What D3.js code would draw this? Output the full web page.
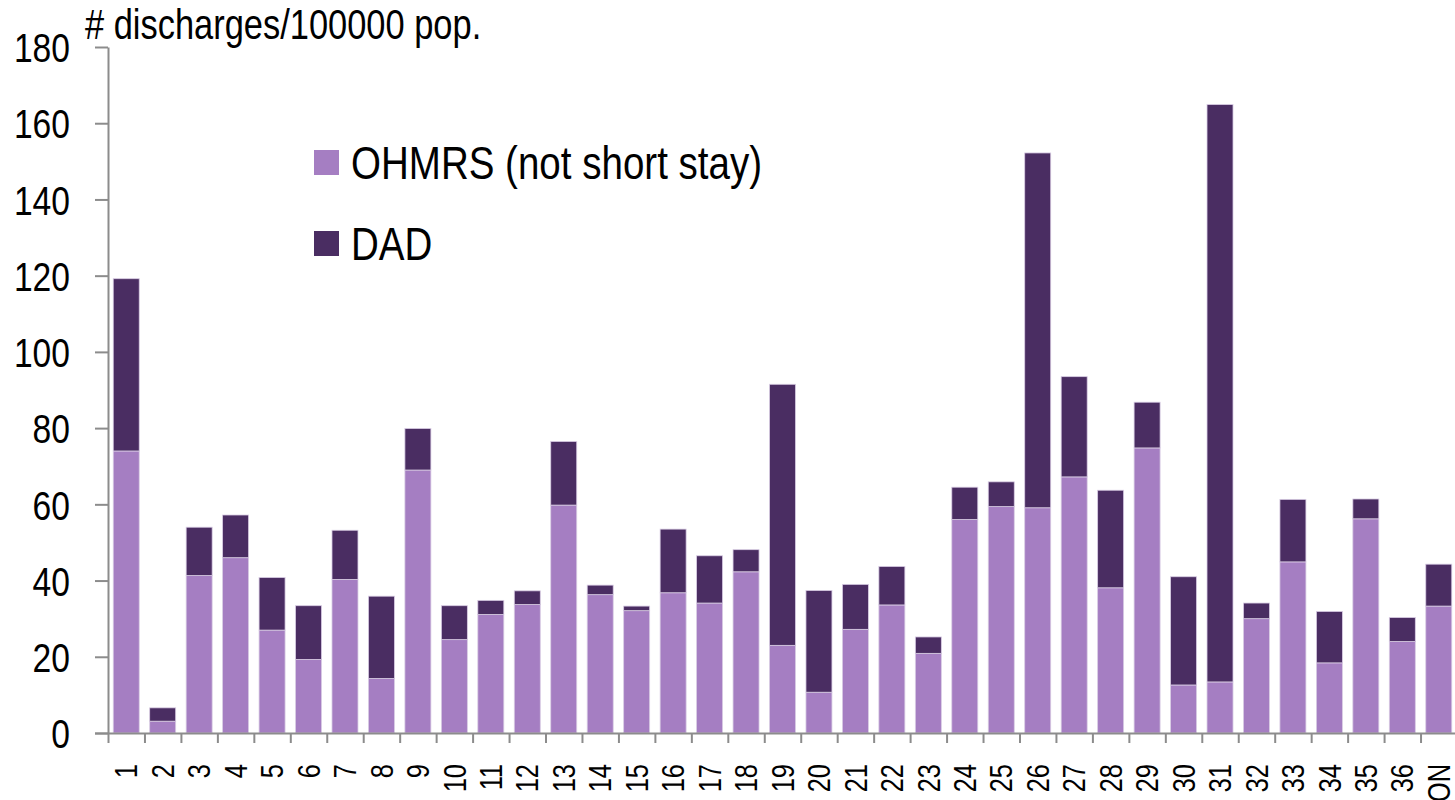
<!DOCTYPE html>
<html>
<head>
<meta charset="utf-8">
<script src="https://cdn.jsdelivr.net/npm/d3@7"></script>
<style>
    body { margin: 0; background: #fff; }
    svg text { font-family: "Liberation Sans", Arial, sans-serif; fill: #000; }
    .axis path, .axis line { stroke: #8c8c8c; stroke-width: 2; }
</style>
</head>
<body>
<script>
//Chart data
const categories = ['1','2','3','4','5','6','7','8','9','10','11','12','13','14','15','16','17','18','19','20',
    '21','22','23','24','25','26','27','28','29','30','31','32','33','34','35','36','ON'];
const ohmrs = [74.0, 3.1, 41.3, 46.0, 27.0, 19.3, 40.3, 14.3, 69.0, 24.5, 31.1, 33.7, 59.8, 36.3, 32.1, 36.8, 34.1, 42.3, 23.0, 10.7,
    27.2, 33.6, 20.9, 56.0, 59.4, 59.1, 67.2, 38.1, 74.8, 12.6, 13.4, 30.0, 44.9, 18.4, 56.2, 24.0, 33.3];
const dad = [45.2, 3.5, 12.7, 11.2, 13.8, 14.1, 12.9, 21.6, 10.9, 8.9, 3.7, 3.6, 16.7, 2.5, 1.2, 16.7, 12.4, 5.8, 68.5, 26.7,
    11.8, 10.1, 4.3, 8.5, 6.5, 93.1, 26.3, 25.6, 12.0, 28.4, 151.5, 4.1, 16.4, 13.5, 5.2, 6.3, 11.0];
const seriesNames = ['OHMRS (not short stay)', 'DAD'];
const seriesColours = ['#a57ec2', '#4a2d62'];
const yTicks = [0, 20, 40, 60, 80, 100, 120, 140, 160, 180];

//Setup chart
const width = 1455;
const height = 800;
const margin = {top: 47, right: -2, bottom: 67, left: 108};

//No narrow font installed, so squeeze the text sideways
const narrow = 0.82;

const svg = d3.select('body').append('svg')
    .attr('width', width)
    .attr('height', height);

//Build stacked data
let rows = categories.map((c, i) => ({name: c, ohmrs: ohmrs[i], dad: dad[i]}));
let stack = d3.stack().keys(['ohmrs', 'dad'])(rows);

//Scales
let x = d3.scaleBand()
    .domain(categories)
    .range([margin.left, width - margin.right])
    .paddingInner(0.287)
    .paddingOuter(0.1435);

let y = d3.scaleLinear()
    .domain([0, 180])
    .range([height - margin.bottom, margin.top]);

//Bars
svg.selectAll('g.series')
    .data(stack)
    .enter()
    .append('g')
    .attr('class', 'series')
    .style('fill', (d, i) => seriesColours[i])
    .selectAll('rect')
    .data(d => d)
    .enter()
    .append('rect')
    .attr('x', d => x(d.data.name))
    .attr('width', x.bandwidth())
    .attr('y', d => y(d[1]))
    .attr('height', d => y(d[0]) - y(d[1]))
    .style('stroke', '#d9cde4')
    .style('stroke-width', 0.8);

//Y axis
svg.append('g')
    .attr('class', 'axis yAxis')
    .attr('transform', `translate(${margin.left}, 0)`)
    .call(d3.axisLeft(y).tickValues(yTicks).tickSize(13).tickSizeOuter(0))
    .selectAll('text')
    .style('font-size', '41px')
    .attr('x', -38 / narrow)
    .attr('dy', '0.36em')
    .attr('transform', `scale(${narrow},1)`);

//X axis: ticks on the band edges
let xEdges = d3.scaleLinear()
    .domain([0, categories.length])
    .range(x.range());

svg.append('g')
    .attr('class', 'axis xAxis')
    .attr('transform', `translate(0, ${y(0)})`)
    .call(d3.axisBottom(xEdges).tickValues(d3.range(categories.length + 1)).tickSize(10).tickSizeOuter(0).tickFormat(''))
    .select('.domain')
    .attr('d', `M${margin.left - 13},0.5H${width}`);

//X labels, rotated
svg.append('g')
    .attr('class', 'xLabels')
    .selectAll('text')
    .data(categories)
    .enter()
    .append('text')
    .attr('transform', d => `translate(${x(d) + x.bandwidth() / 2}, ${y(0) + 31}) rotate(-90) scale(${narrow},1)`)
    .attr('dy', '0.36em')
    .style('text-anchor', 'end')
    .style('font-size', '31px')
    .text(d => d);

//Axis title
svg.append('text')
    .attr('x', 85 / narrow)
    .attr('y', 39)
    .attr('transform', `scale(${narrow},1)`)
    .style('font-size', '42px')
    .text('# discharges/100000 pop.');

//Legend
let legend = svg.append('g')
    .attr('class', 'legend')
    .selectAll('g')
    .data(seriesNames)
    .enter()
    .append('g')
    .attr('transform', (d, i) => `translate(314, ${150 + i * 81})`);

legend.append('rect')
    .attr('width', 25)
    .attr('height', 25)
    .style('fill', (d, i) => seriesColours[i]);

legend.append('text')
    .attr('x', 37 / narrow)
    .attr('y', 29)
    .attr('transform', `scale(${narrow},1)`)
    .style('font-size', '47px')
    .text(d => d);
</script>
</body>
</html>
